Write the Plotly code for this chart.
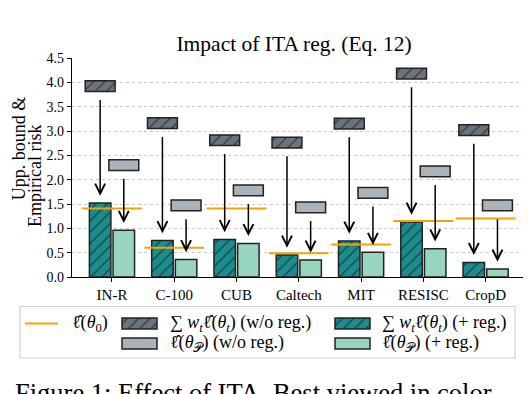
import plotly.graph_objects as go
import numpy as np

# dataset names on the x axis
categories = ["IN-R", "C-100", "CUB", "Caltech", "MIT", "RESISC", "CropD"]
# sum w_t l(theta_t), without / with the ITA regulariser
bound_noreg = [3.92, 3.16, 2.81, 2.76, 3.15, 4.18, 3.02]
bound_reg = [1.52, 0.75, 0.77, 0.45, 0.74, 1.13, 0.30]
# l(theta_P), without / with the regulariser
emp_noreg = [2.30, 1.47, 1.78, 1.43, 1.73, 2.17, 1.47]
emp_reg = [0.96, 0.36, 0.69, 0.35, 0.51, 0.58, 0.165]
# l(theta_0) reference level
base_risk = [1.41, 0.60, 1.41, 0.49, 0.67, 1.15, 1.20]
yticks = [0.0, 0.5, 1.0, 1.5, 2.0, 2.5, 3.0, 3.5, 4.0, 4.5]

DARK = '#6b737c'
TEAL = '#1c8c8c'
LGRAY = '#abb3ba'
LGREEN = '#98d5be'
ORANGE = '#f5a300'
EDGE = '#222222'
FONT = "Liberation Serif"

idx = np.arange(len(categories))
off = 0.19          # left / right bar offset
bw = 0.345          # bar width
boxw = 0.48         # floating box width
boxh = 0.22         # floating box height

fig = go.Figure()

hatch = lambda c: dict(shape='/', bgcolor=c, fgcolor='black', size=8, solidity=0.15)

# real bars (+ reg.)
fig.add_trace(go.Bar(x=idx - off, y=bound_reg, width=bw,
                     marker=dict(color=TEAL, pattern=hatch(TEAL), line=dict(color=EDGE, width=1.5)),
                     showlegend=False))
fig.add_trace(go.Bar(x=idx + off, y=emp_reg, width=bw,
                     marker=dict(color=LGREEN, line=dict(color=EDGE, width=1.5)),
                     showlegend=False))
# floating boxes (w/o reg.)
fig.add_trace(go.Bar(x=idx - off, y=[boxh] * len(idx), base=np.array(bound_noreg) - boxh / 2, width=boxw,
                     marker=dict(color=DARK, pattern=hatch(DARK), line=dict(color=EDGE, width=1.5)),
                     showlegend=False))
fig.add_trace(go.Bar(x=idx + off, y=[boxh] * len(idx), base=np.array(emp_noreg) - boxh / 2, width=boxw,
                     marker=dict(color=LGRAY, line=dict(color=EDGE, width=1.5)),
                     showlegend=False))

# orange reference segments
lx, ly = [], []
for i, v in zip(idx, base_risk):
    lx += [i - 0.48, i + 0.48, None]
    ly += [v, v, None]
fig.add_trace(go.Scatter(x=lx, y=ly, mode='lines', line=dict(color=ORANGE, width=2), showlegend=False))

# arrows from the w/o-reg boxes down to the + reg bars
annos = []
for i in idx:
    for xo, top, bot in [(-off, bound_noreg[i], bound_reg[i]), (off, emp_noreg[i], emp_reg[i])]:
        annos.append(dict(x=i + xo, y=bot + 0.15, ax=i + xo, ay=top - boxh / 2 - 0.14,
                          xref='x', yref='y', axref='x', ayref='y', text='',
                          showarrow=True, arrowhead=5, arrowsize=1.3, arrowwidth=1.5,
                          arrowcolor='black', standoff=0))

# ---- hand made legend (page-pixel coordinates on a hidden axis pair) ----
r1, r2 = 323.5, 343.5
fig.add_trace(go.Scatter(x=[25, 58], y=[r1, r1], mode='lines', line=dict(color=ORANGE, width=2),
                         xaxis='x2', yaxis='y2', showlegend=False))
swatches = [(139.5, r1, DARK, True), (139.5, r2, LGRAY, False),
            (352.5, r1, TEAL, True), (352.5, r2, LGREEN, False)]
for sx, sy, c, h in swatches:
    mk = dict(color=c, line=dict(color=EDGE, width=1.5))
    if h:
        mk['pattern'] = hatch(c)
    fig.add_trace(go.Bar(x=[sx], y=[11], base=[sy - 5.5], width=35, marker=mk,
                         xaxis='x2', yaxis='y2', showlegend=False))

leg_txt = [(70, r1, "ℓ\u0302(<i>θ</i><sub>0</sub>)"),
           (168, r1, "∑ <i>w</i><sub><i>t</i></sub>ℓ\u0302(<i>θ</i><sub><i>t</i></sub>) (w/o reg.)"),
           (168, r2, "ℓ\u0302(<i>θ</i><sub>𝒫</sub>) (w/o reg.)"),
           (380, r1, "∑ <i>w</i><sub><i>t</i></sub>ℓ\u0302(<i>θ</i><sub><i>t</i></sub>) (+ reg.)"),
           (380, r2, "ℓ\u0302(<i>θ</i><sub>𝒫</sub>) (+ reg.)")]
for tx, ty, t in leg_txt:
    annos.append(dict(x=tx, y=ty, xref='x2', yref='y2', text=t, showarrow=False,
                      xanchor='left', yanchor='middle', font=dict(size=18, color='black')))

# y axis title, one annotation per line
annos.append(dict(x=0.007, y=0.704, xref='paper', yref='paper', text="Upp. bound &amp;",
                  textangle=-90, showarrow=False, xanchor='center', yanchor='middle',
                  font=dict(size=18, color='black')))
annos.append(dict(x=0.039, y=0.614, xref='paper', yref='paper', text="Empirical risk",
                  textangle=-90, showarrow=False, xanchor='center', yanchor='middle',
                  font=dict(size=18, color='black')))
# caption of the paper figure, cut by the bottom edge
annos.append(dict(x=-0.004, y=-0.039, xref='paper', yref='paper',
                  text="Figure 1: Effect of ITA. Best viewed in color.",
                  showarrow=False, xanchor='left', yanchor='top', font=dict(size=26.5, color='black')))

# the page body adds an 8px margin, so the figure is 8px smaller and everything sits 8px up/left
fig.update_layout(
    width=524, height=386,
    margin=dict(l=7, r=9, t=50, b=30),
    paper_bgcolor='white', plot_bgcolor='white',
    font=dict(family=FONT, color='black'),
    title=dict(text="Impact of ITA reg. (Eq. 12)", x=0.546, xanchor='center', y=0.907, yanchor='middle',
               font=dict(size=21.5, color='black')),
    barmode='overlay',
    annotations=annos,
    shapes=[dict(type='rect', xref='x2', yref='y2', x0=20, x1=515, y0=306.5, y1=358,
                 line=dict(color='#d0d0d0', width=1.2), layer='below')],
    xaxis=dict(domain=[0.1122, 1], range=[-0.642, 6.60], tickvals=idx, ticktext=categories,
               showline=True, linecolor='black', linewidth=1.25, ticks='outside', ticklen=4,
               tickcolor='black', showgrid=False, zeroline=False, tickfont=dict(size=15), anchor='y'),
    yaxis=dict(domain=[0.2843, 1], range=[0, 4.5], tickvals=yticks, tickformat='.1f',
               showline=True, linecolor='black', linewidth=1.25, ticks='outside', ticklen=4,
               tickcolor='black', showgrid=True, gridcolor='#c8c8c8', griddash='dot', gridwidth=1,
               zeroline=False, tickfont=dict(size=14), anchor='x'),
    xaxis2=dict(domain=[0, 1], range=[15, 523], visible=False, anchor='y2'),
    yaxis2=dict(domain=[0, 0.2255], range=[364, 295], visible=False, anchor='x2'),
)

fig.write_html("out.html")
